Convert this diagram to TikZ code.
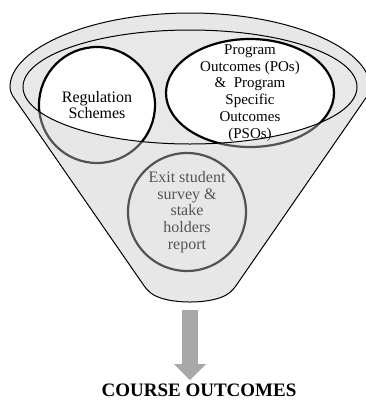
\documentclass[tikz,border=0pt]{standalone}
\usepackage{fontspec}
\setmainfont{Liberation Serif}
\usetikzlibrary{shapes.geometric,arrows.meta}
\definecolor{rimgray}{gray}{0.91}
\definecolor{conegray}{gray}{0.78}
\definecolor{arrowgray}{gray}{0.66}

\begin{document}
\begin{tikzpicture}[x=1pt,y=-1pt,
    source/.style={draw=black,fill=white,line width=2.2pt,inner sep=0pt,align=center},
    txt/.style={align=center,font=\fontsize{16}{16.8}\selectfont}]
\useasboundingbox (0,0) rectangle (366,400);
\clip (0,0) rectangle (366,400);
% inside of the rim
\fill[rimgray] (190,87) ellipse[x radius=167pt,y radius=57pt];
% the three sources
\node[source,circle,minimum size=116pt,txt] (reg) at (97,105) {Regulation\\Schemes};
\node[source,ellipse,minimum width=168pt,minimum height=108pt] (pos) at (250,93) {};
\node[txt,font=\fontsize{15}{16.8}\selectfont] (postext) at (pos) {Program\\Outcomes (POs)\\\&\ \ Program\\Specific\\Outcomes\\(PSOs)};
\node[source,circle,minimum size=118pt,txt] (exit) at (187,212) {Exit student\\survey \&\\stake\\holders\\report};
% front of the funnel
\fill[conegray,fill opacity=0.42,even odd rule,rounded corners=5pt]
  (10,92) arc[start angle=180,end angle=0,x radius=180pt,y radius=79pt]
  -- (233,290) .. controls (214,305) and (166,305) .. (147,290) -- cycle
  (190,87) ellipse[x radius=167pt,y radius=57pt];
\draw[line width=1pt,rounded corners=5pt]
  (10,92) arc[start angle=180,end angle=0,x radius=180pt,y radius=79pt]
  -- (233,290) .. controls (214,305) and (166,305) .. (147,290) -- cycle;
\draw[line width=1pt] (190,87) ellipse[x radius=167pt,y radius=57pt];
\coordinate (neck) at (190,310);
\node[font=\fontsize{19}{20}\selectfont\bfseries] (co) at (199,390) {COURSE OUTCOMES};
\draw[arrowgray,line width=16pt,-{Triangle[length=16pt 0,width=31pt 0]}] (neck) -- (neck |- co.north);
\end{tikzpicture}
\end{document}
